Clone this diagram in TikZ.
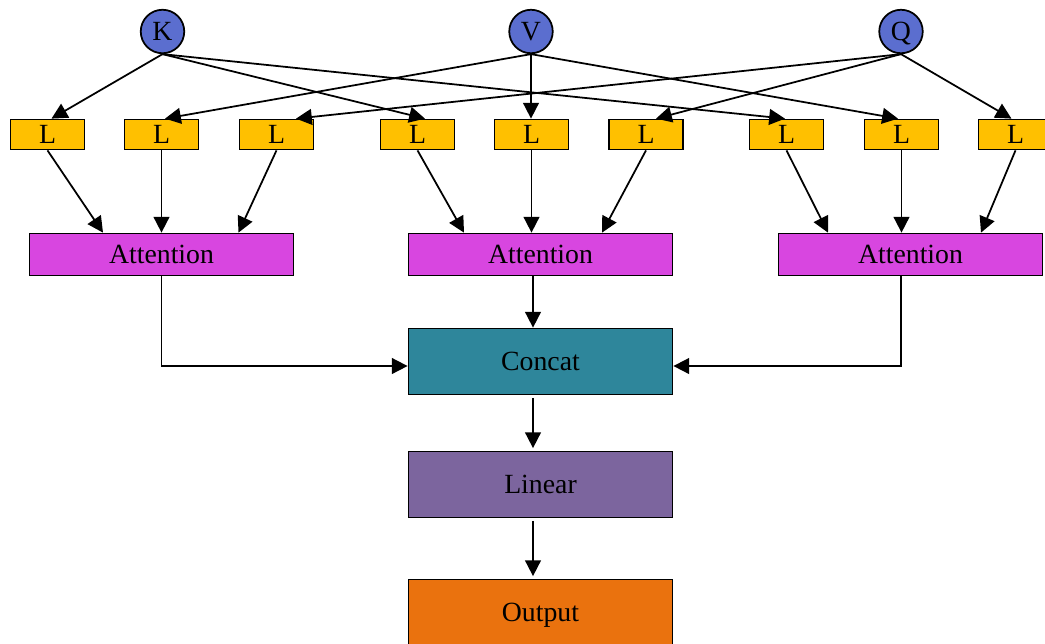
\documentclass[tikz,border=0pt]{standalone}
\usepackage{fontspec}
\setmainfont{Liberation Serif}
\usepackage{xcolor}
\definecolor{inBlue}{RGB}{91,110,207}
\definecolor{projGold}{RGB}{255,192,0}
\definecolor{attnPink}{RGB}{216,70,224}
\definecolor{catTeal}{RGB}{46,134,155}
\definecolor{linPurple}{RGB}{124,101,158}
\definecolor{outOrange}{RGB}{234,114,14}
\usetikzlibrary{arrows.meta}

\begin{document}
\begin{tikzpicture}[
    every node/.style={font=\fontsize{15.8}{18}\selectfont, line width=1pt, text depth=0pt},
    input/.style={
        circle, draw=black, fill=inBlue, minimum size=0.87cm, inner sep=0pt
    },
    proj/.style={
        rectangle, draw=black, fill=projGold,
        minimum width=1.48cm, minimum height=0.6cm, inner sep=0pt
    },
    attn/.style={
        rectangle, draw=black, fill=attnPink,
        minimum width=5.28cm, minimum height=0.84cm, inner sep=0pt
    },
    block/.style={
        rectangle, draw=black,
        minimum width=5.28cm, minimum height=1.32cm, inner sep=0pt
    },
    arr/.style={-{Triangle[length=9pt, width=9pt]}, line width=1pt}
]
\useasboundingbox (0,0) rectangle (20.9,-12.86);
\clip (0,0) rectangle (20.9,-12.86);

% inputs
\node[input] (k) at (3.25,-0.63)  {K};
\node[input] (v) at (10.62,-0.63) {V};
\node[input] (q) at (18.02,-0.63) {Q};

% linear projections, one per input and head
\node[proj] (l1) at (0.95,-2.69)  {L};
\node[proj] (l2) at (3.23,-2.69)  {L};
\node[proj] (l3) at (5.53,-2.69)  {L};
\node[proj] (l4) at (8.35,-2.69)  {L};
\node[proj] (l5) at (10.63,-2.69) {L};
\node[proj] (l6) at (12.92,-2.69) {L};
\node[proj] (l7) at (15.73,-2.69) {L};
\node[proj] (l8) at (18.03,-2.69) {L};
\node[proj] (l9) at (20.31,-2.69) {L};

% heads
\node[attn] (att1) at (3.23,-5.09)  {Attention};
\node[attn] (att2) at (10.81,-5.09) {Attention};
\node[attn] (att3) at (18.21,-5.09) {Attention};

\node[block, fill=catTeal]   (concat) at (10.81,-7.23)  {Concat};
\node[block, fill=linPurple] (linear) at (10.81,-9.69)  {Linear};
\node[block, fill=outOrange] (output) at (10.81,-12.25) {Output};

% inputs to projections
\draw[arr] (k.south) -- ([xshift=0.08cm]l1.north);
\draw[arr] (k.south) -- ([xshift=0.15cm]l4.north);
\draw[arr] (k.south) -- ([xshift=-0.03cm]l7.north);
\draw[arr] (v.south) -- ([xshift=0.07cm]l2.north);
\draw[arr] (v.south) -- (v.south |- l5.north);
\draw[arr] (v.south) -- ([xshift=-0.07cm]l8.north);
\draw[arr] (q.south) -- ([xshift=0.39cm]l3.north);
\draw[arr] (q.south) -- ([xshift=0.2cm]l6.north);
\draw[arr] (q.south) -- ([xshift=-0.08cm]l9.north);

% projections to heads
\draw[arr] (l1.south) -- ([xshift=-1.17cm]att1.north);
\draw[arr] (l2.south) -- (att1.north);
\draw[arr] (l3.south) -- ([xshift=1.54cm]att1.north);
\draw[arr] (l4.south) -- ([xshift=-1.53cm]att2.north);
\draw[arr] (l5.south) -- (l5.south |- att2.north);
\draw[arr] (l6.south) -- ([xshift=1.23cm]att2.north);
\draw[arr] (l7.south) -- ([xshift=-1.65cm]att3.north);
\draw[arr] (l8.south) -- (l8.south |- att3.north);
\draw[arr] (l9.south) -- ([xshift=1.41cm]att3.north);

% heads to concat, then out
\draw[arr] (att1.south) |- ([yshift=-0.09cm]concat.west);
\draw[arr] ([xshift=-0.15cm]att2.south) -- ([xshift=-0.15cm]concat.north);
\draw[arr] ([xshift=-0.19cm]att3.south) |- ([yshift=-0.09cm]concat.east);
\draw[arr] ([xshift=-0.15cm,yshift=-0.05cm]concat.south) -- ([xshift=-0.15cm,yshift=0.05cm]linear.north);
\draw[arr] ([xshift=-0.15cm,yshift=-0.05cm]linear.south) -- ([xshift=-0.15cm,yshift=0.05cm]output.north);

\end{tikzpicture}
\end{document}
